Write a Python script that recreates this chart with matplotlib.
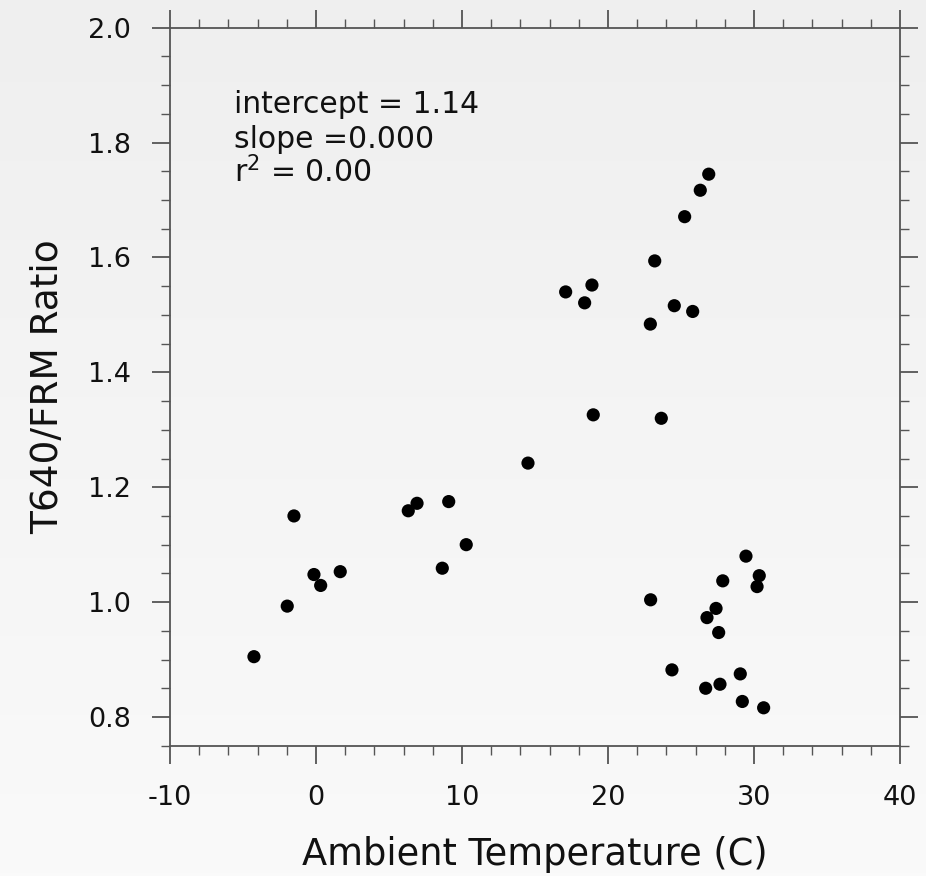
import numpy as np
import matplotlib
matplotlib.use("Agg")
import matplotlib.pyplot as plt
from matplotlib.ticker import MultipleLocator, FormatStrFormatter
from matplotlib.colors import LinearSegmentedColormap

plt.rcParams["axes.unicode_minus"] = False

# Data
temperature = [-4.25, -1.97, -1.51, -0.14, 0.32, 1.66, 6.32, 6.92, 9.09, 8.65,
               10.29, 14.52, 17.10, 18.40, 18.90, 18.99, 22.90, 23.20, 23.65, 24.54,
               25.80, 25.25, 26.32, 26.90, 22.92, 24.38, 26.69, 26.78, 27.40, 27.58,
               27.86, 27.67, 29.06, 29.20, 29.45, 30.36, 30.21, 30.66]
ratio = [0.905, 0.993, 1.150, 1.048, 1.029, 1.053, 1.159, 1.172, 1.175, 1.059,
         1.100, 1.242, 1.540, 1.521, 1.552, 1.326, 1.484, 1.594, 1.320, 1.516,
         1.506, 1.671, 1.717, 1.745, 1.004, 0.882, 0.850, 0.973, 0.989, 0.947,
         1.037, 0.857, 0.875, 0.827, 1.080, 1.046, 1.027, 0.816]
x_ticks = [-10, 0, 10, 20, 30, 40]
y_ticks = [0.8, 1.0, 1.2, 1.4, 1.6, 1.8, 2.0]
stats_lines = ["intercept = 1.14", "slope =0.000", "r$^2$ = 0.00"]

fig = plt.figure(figsize=(9.26, 8.76), dpi=100)

# gradient background
bg = fig.add_axes([0, 0, 1, 1], zorder=-10)
grad = np.linspace(0, 1, 256).reshape(-1, 1)
cmap = LinearSegmentedColormap.from_list("bg", ["#efefef", "#fafafa"])
bg.imshow(grad, aspect="auto", cmap=cmap, extent=[0, 1, 0, 1], origin="upper")
bg.axis("off")

ax = fig.add_axes([170 / 926, 1 - 745.7 / 876, 730 / 926, 718 / 876])
ax.set_facecolor("none")
ax.scatter(temperature, ratio, s=90, color="black", edgecolors="none", zorder=3)

ax.set_xlim(-10, 40)
ax.set_ylim(0.75, 2.0)
ax.set_xticks(x_ticks)
ax.set_yticks(y_ticks)
ax.yaxis.set_major_formatter(FormatStrFormatter("%.1f"))
ax.xaxis.set_minor_locator(MultipleLocator(2))
ax.yaxis.set_minor_locator(MultipleLocator(0.05))

spine_color = "#555555"
for s in ax.spines.values():
    s.set_color(spine_color)
    s.set_linewidth(1.3)

ax.tick_params(which="both", direction="out", top=True, right=True,
               color=spine_color, labelsize=19.5, labelcolor="#111111", pad=15)
ax.tick_params(which="major", length=13, width=1.3)
ax.tick_params(which="minor", length=6.5, width=1.0)

ax.set_xlabel("Ambient Temperature (C)", fontsize=26.5, color="#111111", labelpad=18)
ax.set_ylabel("T640/FRM Ratio", fontsize=27, color="#111111", labelpad=16)

ys = [0.881, 0.832, 0.784]
for line, yy in zip(stats_lines, ys):
    ax.text(0.0877, yy, line, transform=ax.transAxes, fontsize=21.5,
            color="#111111", va="baseline", ha="left")

fig.savefig("out.png", dpi=100)
